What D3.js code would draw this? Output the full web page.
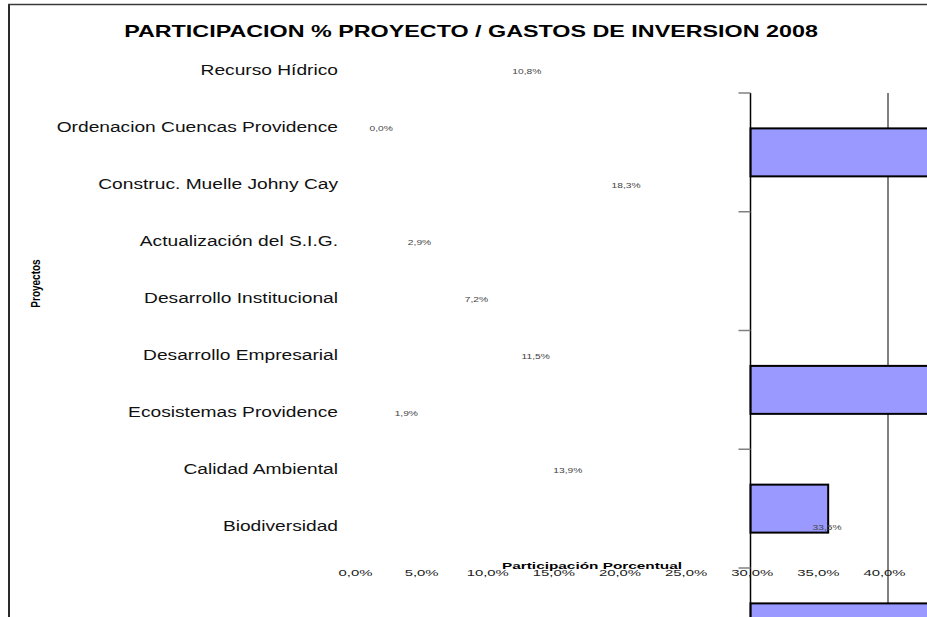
<!DOCTYPE html>
<html><head><meta charset="utf-8">
<script src="https://cdn.jsdelivr.net/npm/d3@7/dist/d3.min.js"></script>
<style>
html,body{margin:0;padding:0;background:#fff;overflow:hidden;width:927px;height:617px;}
svg{display:block;overflow:hidden;font-family:"Liberation Sans",Arial,sans-serif;}
</style></head>
<body>
<script>
// ---- data ----
const title = "PARTICIPACION % PROYECTO / GASTOS DE INVERSION 2008";
const categories = ["Recurso Hídrico","Ordenacion Cuencas Providence","Construc. Muelle Johny Cay",
  "Actualización del S.I.G.","Desarrollo Institucional","Desarrollo Empresarial",
  "Ecosistemas Providence","Calidad Ambiental","Biodiversidad"];
const values = [10.8, 0.0, 18.3, 2.9, 7.2, 11.5, 1.9, 13.9, 33.5];
const xTicks = [0,5,10,15,20,25,30,35,40];
const xTitle = "Participación Porcentual";
const yTitle = "Proyectos";
// displaced bar panel (as drawn in the source picture)
const panelSlots = [0,1,2,3,4];
const panelBars = [{slot:0,v:45},{slot:2,v:45},{slot:3,v:35.65},{slot:4,v:45}];
const panelGrid = [40];

const W=927,H=617;
const svg=d3.select("body").append("svg").attr("width",W).attr("height",H);
const fmt = v => d3.format(".1f")(v).replace(".",",")+"%";

function stretch(sel, sx, rot){
  sel.attr("transform", function(){
    const x=+this.getAttribute("data-x"), y=+this.getAttribute("data-y");
    return `translate(${x},${y}) scale(${sx},1)` + (rot?` rotate(${rot})`:"");
  });
}

// scales
const x = d3.scaleLinear().domain([0,40]).range([355.5,884.5]);
const y = d3.scalePoint().domain(categories).range([70,526]);
const px = d3.scaleLinear().domain([30,40]).range([750.5,888]);
const py = d3.scaleBand().domain(panelSlots).range([93,93+5*118.75]).paddingInner(0.596).paddingOuter(0.298);

// frame
svg.append("line").attr("x1",9).attr("x2",9).attr("y1",4).attr("y2",H).attr("stroke","#2b2b2b").attr("stroke-width",2);
svg.append("line").attr("x1",8).attr("x2",W).attr("y1",4.5).attr("y2",4.5).attr("stroke","#3a3a3a").attr("stroke-width",1.6);

// panel gridline
svg.selectAll(".pg").data(panelGrid).join("line")
  .attr("x1",d=>px(d)).attr("x2",d=>px(d)).attr("y1",93).attr("y2",H)
  .attr("stroke","#000").attr("stroke-width",1);
// panel bars
svg.selectAll(".pb").data(panelBars).join("rect")
  .attr("x",px(30)).attr("y",d=>py(d.slot)).attr("width",d=>px(d.v)-px(30)).attr("height",py.bandwidth())
  .attr("fill","#9999ff").attr("stroke","#000").attr("stroke-width",2);
// panel axis
svg.append("line").attr("x1",px(30)).attr("x2",px(30)).attr("y1",93).attr("y2",H).attr("stroke","#000").attr("stroke-width",1.5);
const tickYs = panelSlots.map(s=>py(s)-py.step()*py.paddingOuter());
svg.selectAll(".pt").data(tickYs).join("line")
  .attr("x1",738.5).attr("x2",px(30)).attr("y1",d=>d).attr("y2",d=>d)
  .attr("stroke","#808080").attr("stroke-width",1.5);

// title
svg.append("text").attr("data-x",471).attr("data-y",36.7).attr("text-anchor","middle")
  .attr("font-weight","bold").attr("font-size",16.3).attr("fill","#000").text(title).call(stretch,1.43);

// category labels
svg.selectAll(".cl").data(categories).join("text")
  .attr("data-x",338).attr("data-y",d=>y(d)+5).attr("text-anchor","end")
  .attr("font-size",14).attr("fill","#111").text(d=>d).call(stretch,1.37);

// value labels
svg.selectAll(".vl").data(values).join("text")
  .attr("data-x",d=>x(d)+14).attr("data-y",(d,i)=>y(categories[i])+4)
  .attr("font-size",8).attr("fill","#444").text(d=>fmt(d)).call(stretch,1.28);

// x tick labels
svg.selectAll(".xt").data(xTicks).join("text")
  .attr("data-x",d=>x(d)).attr("data-y",576).attr("text-anchor","middle")
  .attr("font-size",9.6).attr("fill","#222").text(d=>fmt(d)).call(stretch,1.55);

// x title
svg.append("text").attr("data-x",592).attr("data-y",569).attr("text-anchor","middle")
  .attr("font-weight","bold").attr("font-size",9.6).attr("fill","#000").text(xTitle).call(stretch,1.6);

// y title
svg.append("text").attr("data-x",40).attr("data-y",283.5).attr("text-anchor","middle")
  .attr("font-weight","bold").attr("font-size",10).attr("fill","#000").text(yTitle).call(stretch,1.33,-90);
</script>
</body></html>
